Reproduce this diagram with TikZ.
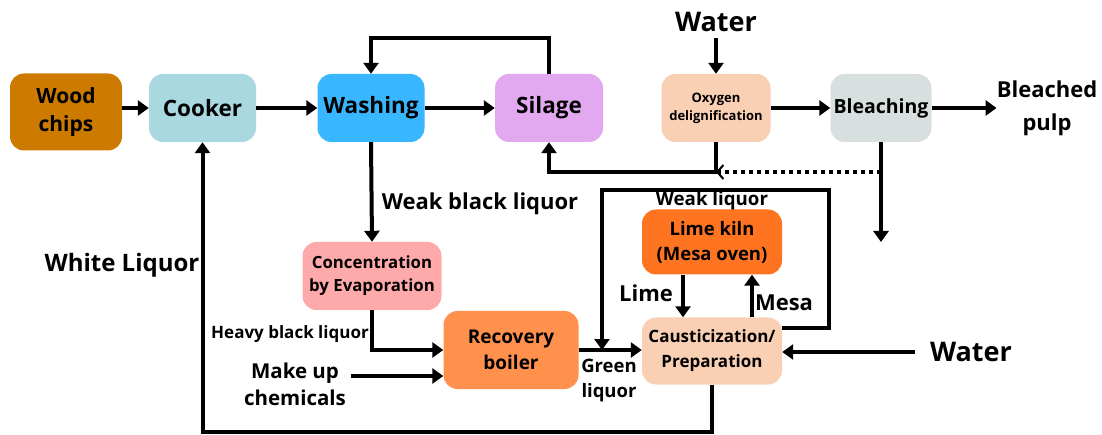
\documentclass[tikz,border=0pt]{standalone}
\usepackage{fontspec}
\setmainfont{Open Sans}
\usetikzlibrary{arrows.meta}
\definecolor{woodc}{RGB}{204,122,0}
\definecolor{cookc}{RGB}{169,216,224}
\definecolor{washc}{RGB}{56,182,255}
\definecolor{silc}{RGB}{226,169,240}
\definecolor{peachc}{RGB}{250,208,180}
\definecolor{bleachc}{RGB}{215,223,223}
\definecolor{concc}{RGB}{255,170,170}
\definecolor{recc}{RGB}{255,145,77}
\definecolor{kilnc}{RGB}{255,116,32}
\newcommand\fsz[2]{\fontsize{#1}{#2}\selectfont\bfseries}
\tikzset{
  box/.style={rounded corners=14pt, align=center, inner sep=0pt, text=black},
  flow/.style={line width=4pt, -{Triangle[width=15pt,length=11pt]}},
  lbl/.style={align=center, inner sep=0pt},
}
\begin{document}
\begin{tikzpicture}[x=1pt, y=-1pt]
\useasboundingbox[fill=white] (0,0) rectangle (1102,435);

% process units
\node[box, fill=woodc, minimum width=112pt, minimum height=77pt, font=\fsz{21}{28}] (wood) at (66,112) {Wood\\chips};
\node[box, fill=cookc, minimum width=107pt, minimum height=68pt, font=\fsz{22.5}{26}] (cooker) at (202.5,108) {Cooker};
\node[box, fill=washc, minimum width=107pt, minimum height=68pt, font=\fsz{22.5}{26}] (washing) at (371,108) {Washing};
\node[box, fill=silc, minimum width=108pt, minimum height=68pt, font=\fsz{22.5}{26}] (silage) at (549,108) {Silage};
\node[box, fill=peachc, minimum width=109pt, minimum height=68pt, font=\fsz{13}{18}] (oxy) at (716,108) {Oxygen\\delignification};
\node[box, fill=bleachc, minimum width=101pt, minimum height=68pt, font=\fsz{19.5}{24}] (bleach) at (881,108) {Bleaching};
\node[box, fill=concc, minimum width=139pt, minimum height=68pt, font=\fsz{16.8}{23}] (conc) at (372,276) {Concentration\\by Evaporation};
\node[box, fill=recc, minimum width=135pt, minimum height=78pt, font=\fsz{19}{26}] (recovery) at (511,350) {Recovery\\boiler};
\node[box, fill=kilnc, minimum width=140pt, minimum height=65pt, font=\fsz{18.5}{25}] (kiln) at (712,242) {Lime kiln\\(Mesa oven)};
\node[box, fill=peachc, minimum width=140pt, minimum height=67pt, font=\fsz{17}{25}] (caust) at (712,351) {Causticization/\\Preparation};

% free-standing streams
\node[lbl, font=\fsz{27}{30}] (wtop) at (716,22) {Water};
\node[lbl, font=\fsz{22}{33}] (pulp) at (1047,108) {Bleached\\pulp};
\node[lbl, font=\fsz{27}{30}] (wright) at (971,352) {Water};
\node[lbl, font=\fsz{20.5}{27}] (mk) at (295,384) {Make up\\chemicals};

% stream labels
\node[lbl, font=\fsz{22}{26}] (lwbl) at (480,204) {Weak black liquor};
\node[lbl, font=\fsz{24}{28}] (lwl) at (122,265) {White Liquor};
\node[lbl, font=\fsz{17}{20}] (lhbl) at (290,334) {Heavy black liquor};
\node[lbl, font=\fsz{18.5}{25}] (lgl) at (609,381) {Green\\liquor};
\node[lbl, font=\fsz{18.7}{22}] (lweak) at (712,201) {Weak liquor};
\node[lbl, font=\fsz{22}{26}] (llime) at (646,293) {Lime};
\node[lbl, font=\fsz{22}{26}] (lmesa) at (784,303) {Mesa};

% junction points
\coordinate (j1) at (716,172);
\coordinate (j2) at (881,172);
\coordinate (bout) at (881,242);
\coordinate (mkout) at (351,376);
\coordinate (wl1) at (829,328);
\coordinate (wl2) at (602,190);
\coordinate (wb) at (712,432);

% fibre line
\draw[flow] (wood.east |- cooker.west) -- (cooker.west);
\draw[flow] (cooker) -- (washing);
\draw[flow] (washing) -- (silage);
\draw[flow] (silage.north) -- ++(0,-36) -| (washing.north);
\draw[flow, shorten <=6pt] (wtop.south) -- (oxy.north);
\draw[flow] (oxy) -- (bleach);
\draw[flow] (bleach) -- (pulp);
\draw[flow] (oxy.south) -- (j1) -| (silage.south);
\draw[line width=4pt, dash pattern=on 4pt off 4pt, -{Straight Barb[width=14pt,length=6pt,line width=2pt]}] (j2) -- (j1);
\draw[flow] (bleach.south) -- (bout);

% liquor cycle
\draw[flow] (washing.south) -- (conc.north);
\draw[flow] (conc.south) |- (recovery.west);
\draw[flow] (mkout) -- (mkout -| recovery.west);
\draw[flow] (recovery.east) -- (recovery.east -| caust.west);
\draw[flow] (caust.east |- wl1) -- (wl1) |- (wl2) -- (wl2 |- recovery.east);
\draw[flow] ([xshift=-29pt]kiln.south) -- ([xshift=-29pt]caust.north);
\draw[flow] ([xshift=40pt]caust.north) -- ([xshift=40pt]kiln.south);
\draw[flow, shorten <=15pt] (wright.west) -- (wright.west -| caust.east);
\draw[flow] (caust.south) -- (wb) -| (cooker.south);
\end{tikzpicture}
\end{document}
